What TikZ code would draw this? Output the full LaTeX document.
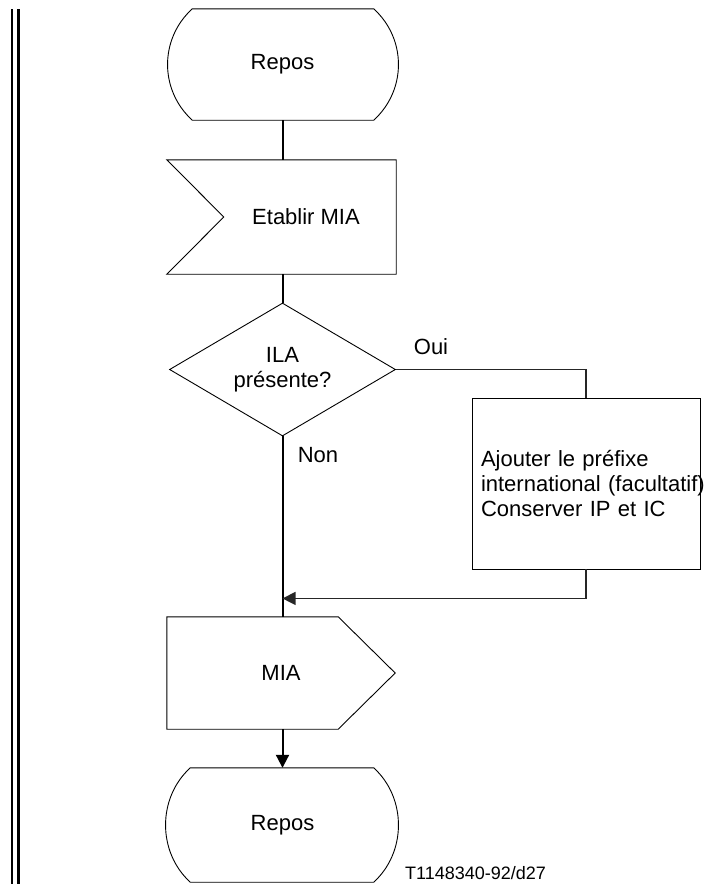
\documentclass[tikz,border=0pt]{standalone}
\usepackage{fontspec}
\setmainfont{Liberation Sans}
\usetikzlibrary{arrows.meta,calc,shapes.geometric}

\begin{document}
\begin{tikzpicture}[
  x=1pt, y=-1pt,
  txt/.style={font=\fontsize{22}{25}\selectfont, inner sep=0pt},
  outline/.style={draw=black, line width=0.9pt, line join=miter},
  flow/.style={draw=black, line width=2pt},
  side/.style={draw=black!85, line width=1.3pt},
  tip/.style={-{Triangle[length=13pt,width=13pt]}},
  boxnode/.style={txt, rectangle, minimum width=#1, minimum height=112pt}
]
\useasboundingbox (0,0) rectangle (705,884);

% margin bars
\draw[line width=2.3pt] (12,9) -- (12,884);
\draw[line width=2.3pt] (18.5,9) -- (18.5,884);

% --- nodes (text carriers; outlines drawn below) ---
\node[boxnode=230pt, minimum height=111pt] (r1) at (282.5,64.5) {Repos};
\node[boxnode=180pt, minimum height=114pt] (e) at (306,217) {Etablir MIA};
\node[txt, diamond, outline, align=center, minimum width=226pt,
      minimum height=133pt, aspect=1.7] (d) at (282.5,369.5) {ILA\\présente?};
\node[txt, rectangle, outline, align=left, text width=210pt, inner xsep=9pt,
      minimum height=171pt] (b) at (586,483.5)
  {Ajouter le préfixe\\\mbox{international (facultatif)}\\Conserver IP et IC};
\node[boxnode=228pt] (m) at (281,673) {MIA};
\node[boxnode=230pt, minimum height=114pt] (r2) at (282.5,825) {Repos};

% --- outlines ---
% rest state, top
\draw[outline]
  ($(r1.north west)+(25,0)$) -- ($(r1.north east)+(-24,0)$)
  .. controls +(33,30) and +(33,-30) .. ($(r1.south east)+(-24,0)$)
  -- ($(r1.south west)+(25,0)$)
  .. controls +(-33,-30) and +(-33,30) .. cycle;
% input signal
\draw[outline]
  (e.north east) -- (e.south east) -- ($(e.south west)+(-49,0)$)
  -- ($(e.west)+(8,0)$) -- ($(e.north west)+(-49,0)$) -- cycle;
% output signal
\draw[outline]
  (m.north west) -- ($(m.north east)+(-57,0)$) -- (m.east)
  -- ($(m.south east)+(-57,0)$) -- (m.south west) -- cycle;
% rest state, bottom
\draw[outline]
  ($(r2.north west)+(23,0)$) -- ($(r2.north east)+(-24,0)$)
  .. controls +(33,30) and +(33,-30) .. ($(r2.south east)+(-24,0)$)
  -- ($(r2.south west)+(23,0)$)
  .. controls +(-33,-30) and +(-33,30) .. cycle;

% --- connectors ---
\coordinate (j) at ($(d.south)+(0,162)$);
\draw[flow] (r1.south) -- (r1.south |- e.north);
\draw[flow] (r1.south |- e.south) -- (d.north);
\draw[flow] (d.south) -- (d.south |- m.north);
\draw[side] (d.east) -| (b.north);
\draw[side, tip] (b.south) |- (j);
\draw[flow, tip] (r2.north |- m.south) -- (r2.north);

% --- labels ---
\node[txt] (oui) at (431,347) {Oui};
\node[txt] (non) at (318,455) {Non};
\node[font=\fontsize{18}{21}\selectfont, inner sep=0pt, anchor=west] (ref)
  at (405,873) {T1148340-92/d27};
\end{tikzpicture}
\end{document}
